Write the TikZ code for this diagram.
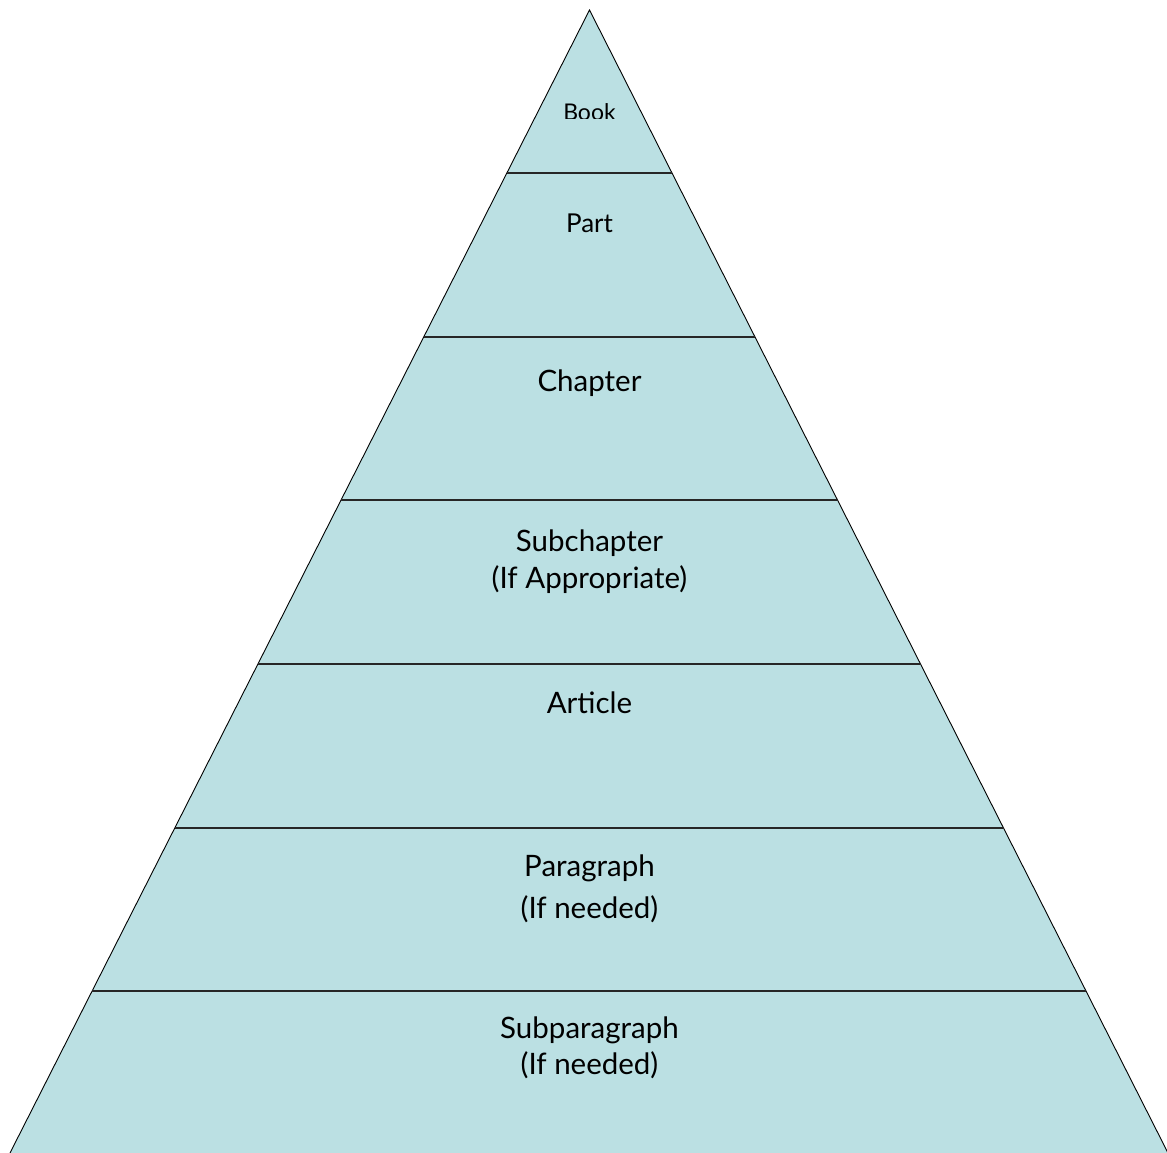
\documentclass[tikz,border=0pt]{standalone}
\usepackage{fontspec}
\setmainfont{Lato}
\usetikzlibrary{calc}
\definecolor{layerfill}{RGB}{187,224,227}
\tikzset{
  edge/.style={draw=black, line width=0.9pt},
  sep/.style={draw=black!85, line width=1.6pt},
  lbl/.style={anchor=base, inner sep=0pt, font=\fontsize{29.5}{29.5}\selectfont},
}
\begin{document}
\begin{tikzpicture}[x=1pt,y=-1pt]
\useasboundingbox (0,0) rectangle (1167,1153);
\coordinate (A) at (589.5,10);
\coordinate (BL) at (10,1153);
\coordinate (BR) at (1168,1153);
\fill[layerfill] (A) -- (BL) -- (BR) -- cycle;
\draw[edge] (BL) -- (A) -- (BR);
\foreach \y [count=\i] in {173,337,500,664,828,991}{
  \pgfmathsetmacro{\t}{(\y-10)/1143}
  \coordinate (L\i) at ($(A)!\t!(BL)$);
  \coordinate (R\i) at ($(A)!\t!(BR)$);
  \draw[sep] (L\i) -- (R\i);
}
\begin{scope}
\clip (0,0) rectangle (1167,119);
\node[lbl, font=\fontsize{23}{23}\selectfont] (book) at (589.5,121) {Book};
\end{scope}
\node[lbl, font=\fontsize{26}{26}\selectfont] (part) at (589.5,232) {Part};
\node[lbl] (chapter) at (589.5,391) {Chapter};
\node[lbl] (subch) at (589.5,551) {Subchapter};
\node[lbl] (subch2) at (589.5,588) {(If Appropriate)};
\node[lbl] (article) at (589.5,713) {Article};
\node[lbl] (para) at (589.5,876) {Paragraph};
\node[lbl] (para2) at (589.5,918) {(If needed)};
\node[lbl] (subpara) at (589.5,1038) {Subparagraph};
\node[lbl] (subpara2) at (589.5,1074) {(If needed)};
\end{tikzpicture}
\end{document}
